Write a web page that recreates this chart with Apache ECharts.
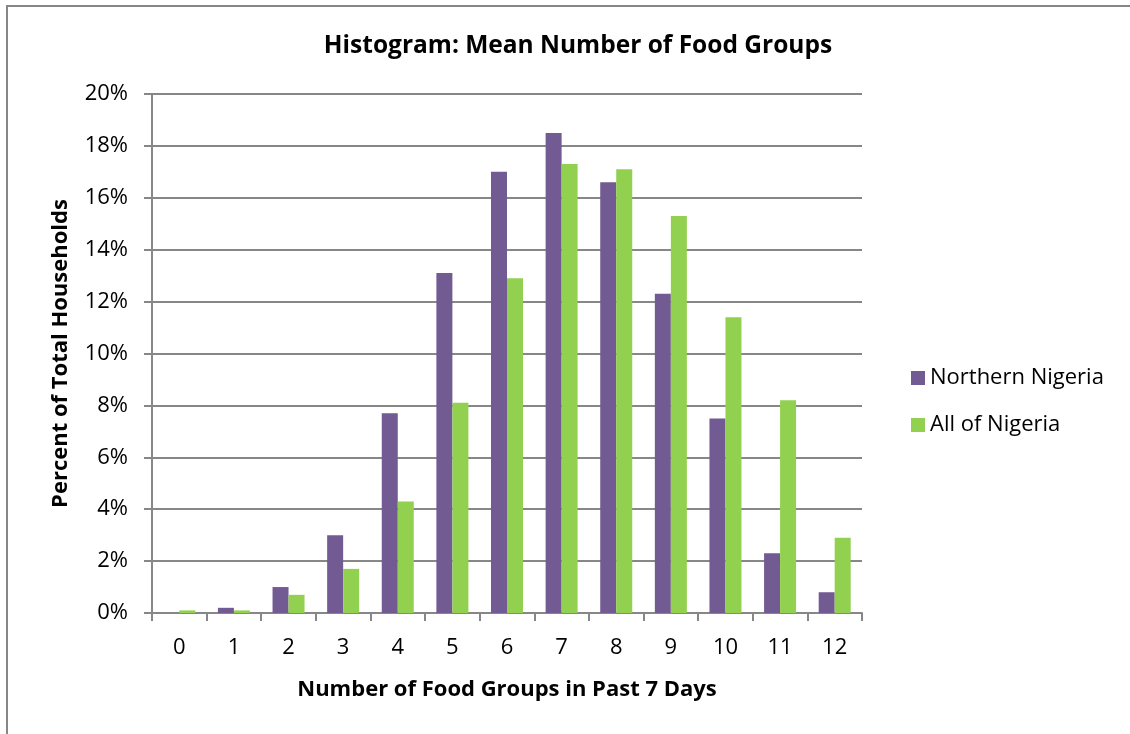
<!DOCTYPE html>
<html>
<head>
<meta charset="utf-8">
<script src="https://cdn.jsdelivr.net/npm/echarts@6/dist/echarts.min.js"></script>
<style>
  html, body { margin: 0; padding: 0; background: #fff; }
  #chart { width: 1130px; height: 734px; }
</style>
</head>
<body>
<div id="chart"></div>
<script>
// Number of food groups eaten in the past 7 days
const categories = ['0', '1', '2', '3', '4', '5', '6', '7', '8', '9', '10', '11', '12'];
// Percent of households in each bin
const northernNigeria = [0, 0.2, 1.0, 3.0, 7.7, 13.1, 17.0, 18.5, 16.6, 12.3, 7.5, 2.3, 0.8];
const allNigeria = [0.1, 0.1, 0.7, 1.7, 4.3, 8.1, 12.9, 17.3, 17.1, 15.3, 11.4, 8.2, 2.9];
const seriesNames = ['Northern Nigeria', 'All of Nigeria'];

const FONT = '"Open Sans", Lato, sans-serif';
const GRAY = '#878787';

const chart = echarts.init(document.getElementById('chart'), null, { renderer: 'canvas' });
chart.setOption({
  backgroundColor: '#fff',
  animation: false,
  title: {
    text: 'Histogram: Mean Number of Food Groups',
    left: 573,
    textAlign: 'center',
    top: 29,
    textStyle: { fontFamily: FONT, fontWeight: 'bold', fontSize: 24.5, color: '#000' }
  },
  graphic: [{
    type: 'rect',
    shape: { x: 7, y: 6, width: 1200, height: 800 },
    style: { fill: 'none', stroke: GRAY, lineWidth: 2 },
    silent: true
  }],
  legend: {
    orient: 'vertical',
    left: 906,
    top: 362,
    itemWidth: 14,
    itemHeight: 14,
    itemGap: 25,
    icon: 'rect',
    textStyle: { fontFamily: FONT, fontSize: 22, color: '#000' },
    data: seriesNames
  },
  grid: { left: 152, right: 268, top: 94, bottom: 121, containLabel: false },
  xAxis: {
    type: 'category',
    data: categories,
    name: 'Number of Food Groups in Past 7 Days',
    nameLocation: 'middle',
    nameGap: 66,
    nameTextStyle: { fontFamily: FONT, fontWeight: 'bold', fontSize: 22, color: '#000' },
    axisLine: { lineStyle: { color: GRAY, width: 2 } },
    axisTick: { show: true, length: 8, lineStyle: { color: GRAY, width: 2 } },
    axisLabel: { fontFamily: FONT, fontSize: 22, color: '#000', margin: 24 }
  },
  yAxis: {
    type: 'value',
    min: 0,
    max: 20,
    interval: 2,
    name: 'Percent of Total Households',
    nameLocation: 'middle',
    nameGap: 80,
    nameRotate: 90,
    nameTextStyle: { fontFamily: FONT, fontWeight: 'bold', fontSize: 22, color: '#000' },
    axisLine: { show: true, lineStyle: { color: GRAY, width: 2 } },
    axisTick: { show: true, length: 8, lineStyle: { color: GRAY, width: 2 } },
    axisLabel: { fontFamily: FONT, fontSize: 22, color: '#000', margin: 24, formatter: v => v + '%' },
    splitLine: { show: true, lineStyle: { color: GRAY, width: 2 } }
  },
  series: [
    {
      name: seriesNames[0],
      type: 'bar',
      data: northernNigeria,
      barWidth: 16,
      barGap: '0%',
      itemStyle: { color: '#725A92' }
    },
    {
      name: seriesNames[1],
      type: 'bar',
      data: allNigeria,
      barWidth: 16,
      barGap: '0%',
      itemStyle: { color: '#92D050' }
    }
  ]
});
</script>
</body>
</html>
